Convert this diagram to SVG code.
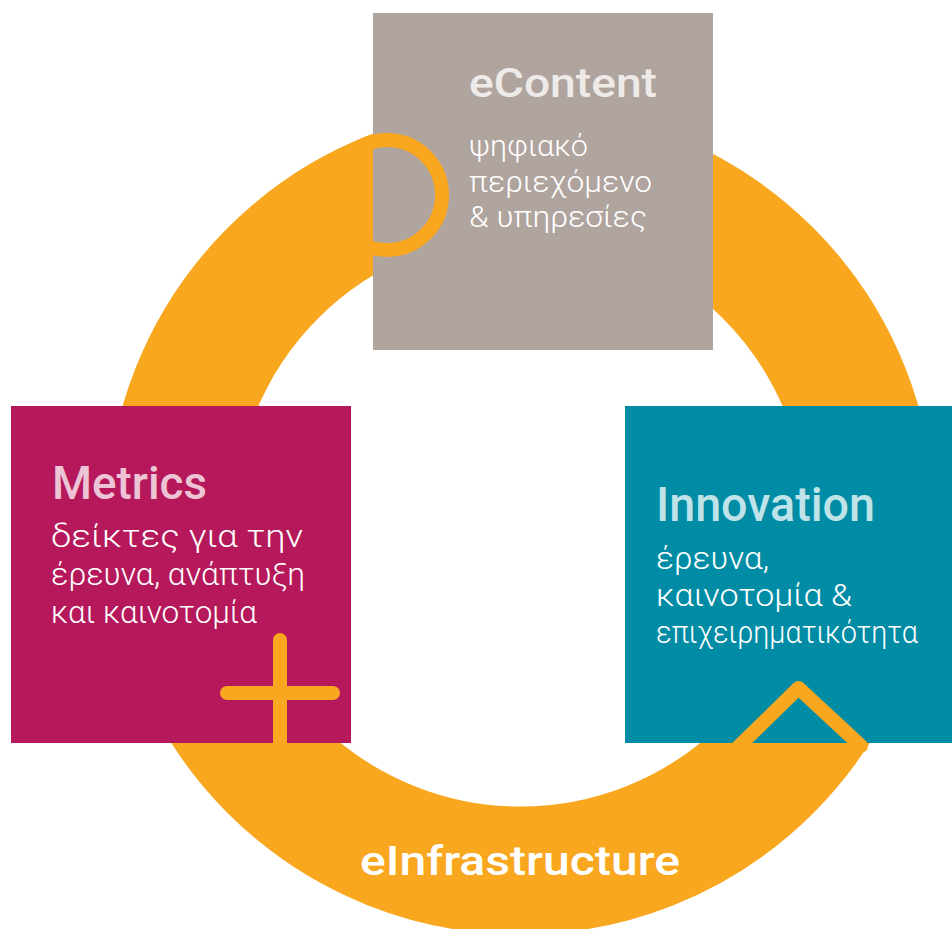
<svg xmlns="http://www.w3.org/2000/svg" width="952" height="929" viewBox="0 0 952 929">
<style>
.title{font-family:Roboto,"Liberation Sans",sans-serif;font-weight:500}
.sub{font-family:Roboto,"Liberation Sans",sans-serif;font-weight:300;fill:#FFFFFF}
.icon{fill:none;stroke:#F8A71E;stroke-width:14;stroke-linecap:round;stroke-linejoin:round}
</style>
<rect width="952" height="929" fill="#FFFFFF"/>
<g id="connectors">
<circle cx="520.5" cy="520.5" r="350" fill="none" stroke="#F8A71E" stroke-width="128"/>
</g>
<g id="node-econtent">
<rect x="373" y="13" width="340" height="337" fill="#B0A49F"/>
<circle class="icon" cx="387" cy="195" r="55"/>
<text class="title" x="469" y="97" font-size="40" fill="#EEEAE8" textLength="188" lengthAdjust="spacingAndGlyphs">eContent</text>
<text class="sub" x="469" y="156" font-size="30" textLength="119" lengthAdjust="spacingAndGlyphs">ψηφιακό</text>
<text class="sub" x="469" y="192" font-size="30" textLength="183" lengthAdjust="spacingAndGlyphs">περιεχόμενο</text>
<text class="sub" x="469" y="227" font-size="30" textLength="178" lengthAdjust="spacingAndGlyphs">&amp; υπηρεσίες</text>
</g>
<g id="node-metrics">
<rect x="11" y="406" width="340" height="337" fill="#B5195B"/>
<path class="icon" d="M280 640 V750 M227 693 H333"/>
<text class="title" x="52" y="499" font-size="47" fill="#EDC3D6" textLength="155" lengthAdjust="spacingAndGlyphs">Metrics</text>
<text class="sub" x="51" y="547" font-size="32" textLength="252" lengthAdjust="spacingAndGlyphs">δείκτες για την</text>
<text class="sub" x="51" y="585" font-size="32" textLength="254" lengthAdjust="spacingAndGlyphs">έρευνα, ανάπτυξη</text>
<text class="sub" x="51" y="623" font-size="32" textLength="206" lengthAdjust="spacingAndGlyphs">και καινοτομία</text>
</g>
<g id="node-innovation">
<rect x="625" y="406" width="327" height="337" fill="#008CA5"/>
<path class="icon" d="M733 752 L798.5 688 L861 746"/>
<text class="title" x="656" y="521" font-size="48" fill="#BFE3E8" textLength="219" lengthAdjust="spacingAndGlyphs">Innovation</text>
<text class="sub" x="656" y="569" font-size="32" textLength="113" lengthAdjust="spacingAndGlyphs">έρευνα,</text>
<text class="sub" x="656" y="606" font-size="32" textLength="196" lengthAdjust="spacingAndGlyphs">καινοτομία &amp;</text>
<text class="sub" x="656" y="643" font-size="32" textLength="262" lengthAdjust="spacingAndGlyphs">επιχειρηματικότητα</text>
</g>
<g id="node-einfrastructure">
<text class="title" x="360" y="875" font-size="41" fill="#FFFFFF" textLength="320" lengthAdjust="spacingAndGlyphs">eInfrastructure</text>
</g>
</svg>
